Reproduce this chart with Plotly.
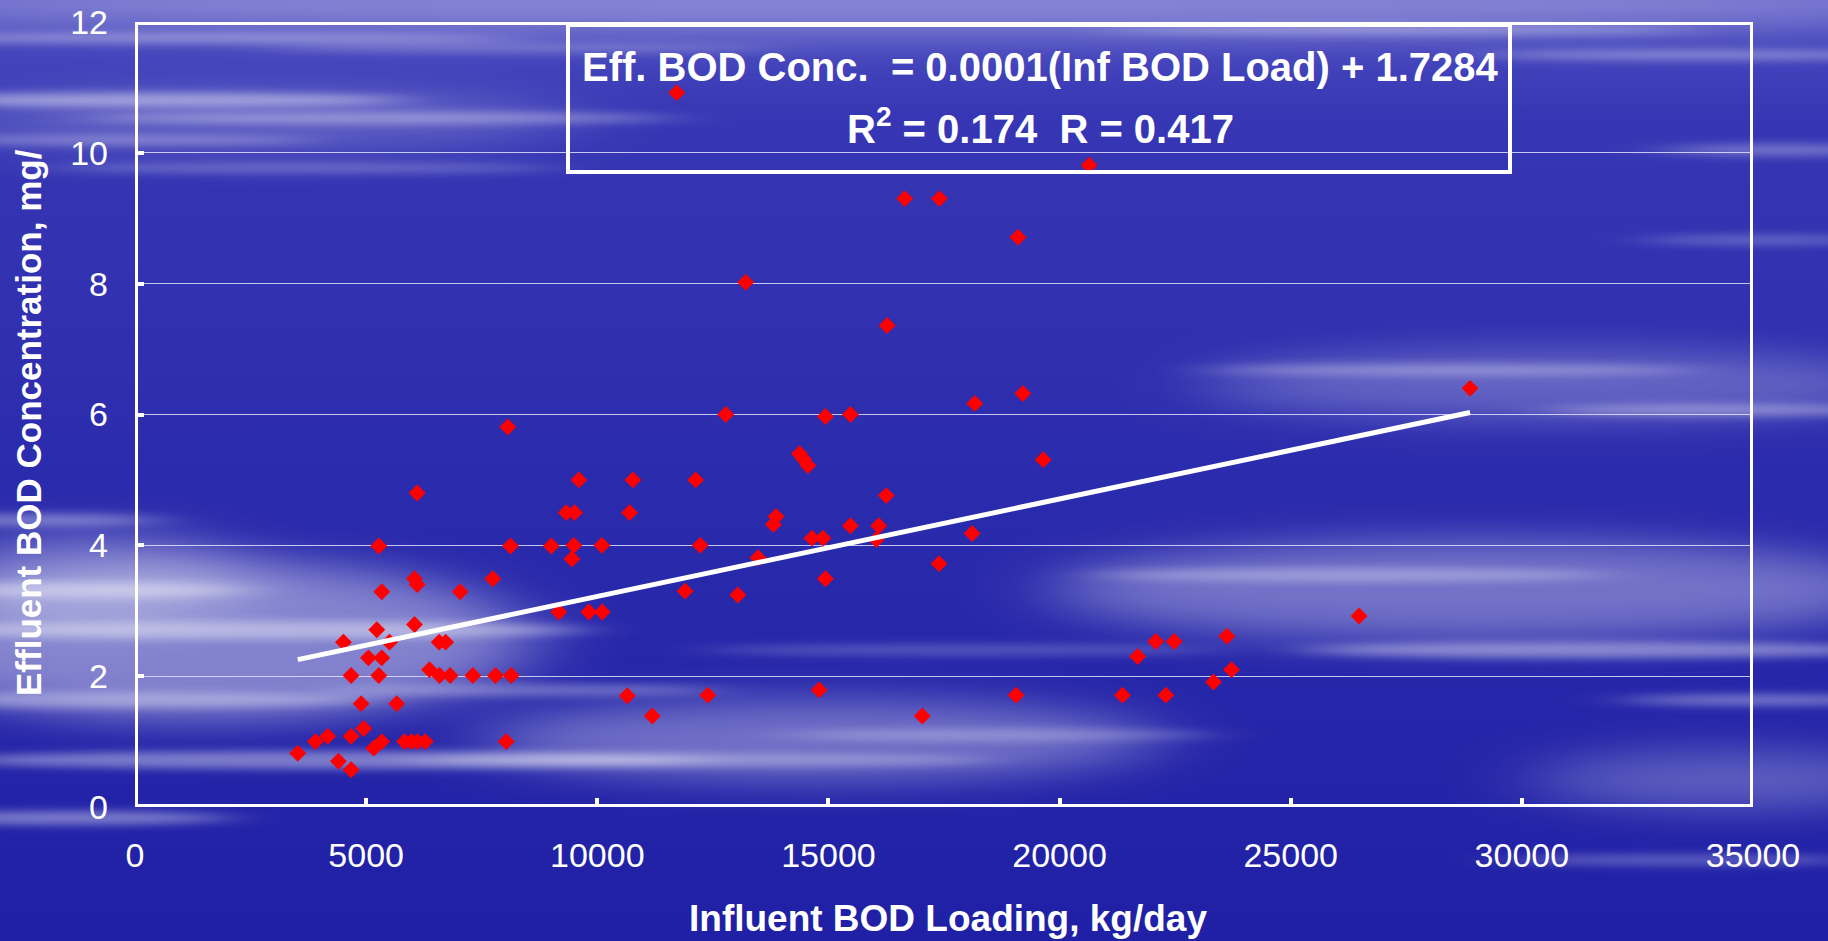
import base64
import plotly.graph_objects as go

# Influent BOD loading (kg/day) and effluent BOD concentration (mg/l)
inf_bod_load = [
    3520, 3903, 4169, 4401, 4509, 4675, 4675, 4675, 4892, 4948,
    5050, 5165, 5230, 5274, 5274, 5338, 5338, 5338, 5505, 5662,
    5830, 5980, 6046, 6046, 6104, 6104, 6110, 6280, 6370, 6580,
    6720, 6587, 6818, 7035, 7308, 7740, 7799, 8030, 8065, 8124,
    8138, 9004, 9169, 9329, 9451, 9494, 9509, 9602, 9818, 10100,
    10108, 10648, 10699, 10771, 11190, 11720, 11900, 12128, 12228, 12390,
    12780, 13040, 13210, 13480, 13810, 13869, 14375, 14460, 14556, 14645,
    14800, 14883, 14935, 14935, 15476, 15476, 16039, 16089, 16251, 16270,
    16650, 17030, 17394, 17400, 18109, 18166, 19060, 19100, 19205, 19645,
    20640, 21360, 21690, 22080, 22300, 22480, 23330, 23620, 23720, 26480,
    28880,
]
eff_bod_conc = [
    0.82, 1.00, 1.08, 0.70, 2.52, 2.01, 1.08, 0.57, 1.58, 1.20,
    2.28, 0.90, 2.71, 3.99, 2.01, 3.29, 2.28, 1.00, 2.52, 1.58,
    1.00, 1.00, 3.49, 2.79, 4.80, 3.40, 1.00, 1.00, 2.10, 2.52,
    2.52, 2.01, 2.01, 3.29, 2.01, 3.49, 2.01, 1.00, 5.81, 3.99,
    2.01, 3.99, 2.98, 4.50, 3.79, 4.00, 4.50, 5.00, 2.98, 4.00,
    2.98, 1.70, 4.50, 5.00, 1.39, 10.92, 3.30, 5.00, 4.00, 1.71,
    6.00, 3.24, 8.02, 3.81, 4.32, 4.44, 5.40, 5.32, 5.22, 4.11,
    1.79, 4.11, 3.49, 5.97, 6.00, 4.30, 4.09, 4.30, 4.76, 7.36,
    9.30, 1.39, 3.72, 9.30, 4.18, 6.17, 1.71, 8.71, 6.32, 5.31,
    9.81, 1.71, 2.30, 2.53, 1.71, 2.53, 1.91, 2.61, 2.10, 2.92,
    6.40,
]

# Linear regression of effluent concentration on influent load
slope = 0.000149
intercept = 1.7284
r_squared = 0.174
r_value = 0.417

x_ticks = [0, 5000, 10000, 15000, 20000, 25000, 30000, 35000]
y_ticks = [0, 2, 4, 6, 8, 10, 12]
x_title = "Influent BOD Loading, kg/day"
y_title = "Effluent BOD Concentration, mg/"

# Page geometry (pixels)
W, H = 1828, 941
ML, MR, MT, MB = 135, 75, 22, 134
PW = W - ML - MR
PH = H - MT - MB


def paper_x(px):
    return (px - ML) / PW


def paper_y(py):
    return (H - MB - py) / PH


# Soft cloudy streaks over the blue backdrop: (cx, cy, rx, ry, opacity)
broad_clouds = [
    (914, 4, 1100, 30, 0.32),
    (200, 640, 330, 80, 0.42),
    (90, 580, 160, 50, 0.30),
    (820, 740, 340, 40, 0.34),
    (1480, 590, 430, 50, 0.34),
    (1560, 385, 360, 34, 0.26),
    (1730, 780, 200, 30, 0.26),
    (260, 120, 320, 30, 0.20),
]
thin_streaks = [
    (200, 38, 320, 5, 0.35), (520, 48, 260, 4, 0.25), (150, 100, 260, 7, 0.45),
    (380, 118, 300, 6, 0.35), (120, 140, 200, 5, 0.30), (300, 168, 260, 5, 0.25),
    (1400, 30, 300, 5, 0.30), (1700, 55, 220, 5, 0.35), (1780, 150, 120, 6, 0.30),
    (1760, 240, 120, 5, 0.25), (1450, 370, 250, 6, 0.30), (1720, 410, 180, 6, 0.35),
    (90, 590, 160, 8, 0.40), (260, 630, 330, 9, 0.40), (120, 700, 260, 8, 0.35),
    (330, 760, 380, 9, 0.40), (70, 818, 160, 7, 0.40), (700, 760, 300, 7, 0.30),
    (1000, 735, 220, 6, 0.25), (1350, 575, 260, 7, 0.30), (1600, 650, 300, 8, 0.40),
    (1760, 700, 140, 6, 0.35), (1680, 860, 180, 6, 0.25), (960, 650, 260, 6, 0.20),
    (40, 520, 120, 6, 0.35), (520, 690, 200, 6, 0.30),
]


def ellipses(items):
    return "".join(
        f'<ellipse cx="{cx}" cy="{cy}" rx="{rx}" ry="{ry}" opacity="{op}"/>'
        for cx, cy, rx, ry, op in items
    )


backdrop_svg = (
    f'<svg xmlns="http://www.w3.org/2000/svg" width="{W}" height="{H}" viewBox="0 0 {W} {H}">'
    '<defs>'
    '<linearGradient id="sky" x1="0" y1="0" x2="0" y2="1">'
    '<stop offset="0" stop-color="#5050c2"/>'
    '<stop offset="0.12" stop-color="#3737b5"/>'
    '<stop offset="0.5" stop-color="#2b2bad"/>'
    '<stop offset="1" stop-color="#2020a6"/>'
    '</linearGradient>'
    '<filter id="wide" x="-50%" y="-50%" width="200%" height="200%">'
    '<feGaussianBlur stdDeviation="45 18"/></filter>'
    '<filter id="thin" x="-50%" y="-50%" width="200%" height="200%">'
    '<feGaussianBlur stdDeviation="30 4"/></filter>'
    '</defs>'
    '<rect x="0" y="0" width="100%" height="100%" fill="url(#sky)"/>'
    f'<g filter="url(#wide)" fill="#ffffff">{ellipses(broad_clouds)}</g>'
    f'<g filter="url(#thin)" fill="#ffffff">{ellipses(thin_streaks)}</g>'
    '</svg>'
)
backdrop_uri = "data:image/svg+xml;base64," + base64.b64encode(backdrop_svg.encode()).decode()

fit_x = [min(inf_bod_load), max(inf_bod_load)]
fit_y = [intercept + slope * v for v in fit_x]

fig = go.Figure()
fig.add_trace(go.Scatter(
    x=inf_bod_load, y=eff_bod_conc, mode="markers",
    marker=dict(symbol="diamond", size=13, color="#ff0000", line=dict(width=0)),
    hoverinfo="x+y", showlegend=False,
))
fig.add_trace(go.Scatter(
    x=fit_x, y=fit_y, mode="lines",
    line=dict(color="#ffffff", width=5),
    hoverinfo="skip", showlegend=False,
))

font_family = "Liberation Sans, Arial, sans-serif"
tick_font = dict(family=font_family, size=34, color="#ffffff")

fig.update_xaxes(
    range=[0, 35000], tickvals=x_ticks, ticktext=[str(v) for v in x_ticks],
    ticks="inside", ticklen=9, tickwidth=4, tickcolor="#ffffff",
    ticklabelstandoff=25, tickfont=tick_font,
    showgrid=False, zeroline=False, showline=False, fixedrange=True,
)
fig.update_yaxes(
    range=[0, 12], tickvals=y_ticks, ticktext=[str(v) for v in y_ticks],
    ticks="inside", ticklen=9, tickwidth=4, tickcolor="#ffffff",
    ticklabelstandoff=26, tickfont=tick_font,
    showgrid=True, gridcolor="rgba(225,225,255,0.85)", gridwidth=1,
    zeroline=False, showline=False, fixedrange=True,
)

equation_line1 = (
    f"Eff. BOD Conc.\u00a0 = {slope:.4f}(Inf BOD Load) + {intercept:.4f}"
)
equation_line2 = f"R<sup>2</sup> = {r_squared:.3f}\u00a0 R = {r_value:.3f}"

x_label_font = dict(family=font_family, size=37, color="#ffffff")
y_label_font = dict(family=font_family, size=35, color="#ffffff")
eq_font = dict(family=font_family, size=40, color="#ffffff")

fig.update_layout(
    width=W, height=H,
    margin=dict(l=ML, r=MR, t=MT, b=MB, autoexpand=False),
    paper_bgcolor="#2a2aac", plot_bgcolor="rgba(0,0,0,0)",
    showlegend=False,
    images=[dict(
        source=backdrop_uri, xref="paper", yref="paper",
        x=-ML / PW, y=1 + MT / PH, sizex=W / PW, sizey=H / PH,
        xanchor="left", yanchor="top", sizing="stretch", layer="below",
    )],
    shapes=[
        # plot frame
        dict(type="rect", xref="x", yref="y", x0=0, x1=35000, y0=0, y1=12,
             line=dict(color="#ffffff", width=6), fillcolor="rgba(0,0,0,0)",
             layer="above"),
        # regression equation box
        dict(type="rect", xref="paper", yref="paper",
             x0=paper_x(568), x1=paper_x(1510), y0=paper_y(172), y1=paper_y(25),
             line=dict(color="#ffffff", width=4), fillcolor="rgba(0,0,0,0)",
             layer="above"),
    ],
    annotations=[
        dict(text=f"<b>{equation_line1}</b>", xref="paper", yref="paper",
             x=paper_x(1040), y=paper_y(67), xanchor="center", yanchor="middle",
             showarrow=False, font=eq_font),
        dict(text=f"<b>{equation_line2}</b>", xref="paper", yref="paper",
             x=paper_x(1040), y=paper_y(126), xanchor="center", yanchor="middle",
             showarrow=False, font=eq_font),
        dict(text=f"<b>{x_title}</b>", xref="paper", yref="paper",
             x=paper_x(948), y=paper_y(918), xanchor="center", yanchor="middle",
             showarrow=False, font=x_label_font),
        dict(text=f"<b>{y_title}</b>", xref="paper", yref="paper",
             x=paper_x(28), y=paper_y(423), xanchor="center", yanchor="middle",
             textangle=-90, showarrow=False, font=y_label_font),
    ],
)

fig.write_html("out.html")
